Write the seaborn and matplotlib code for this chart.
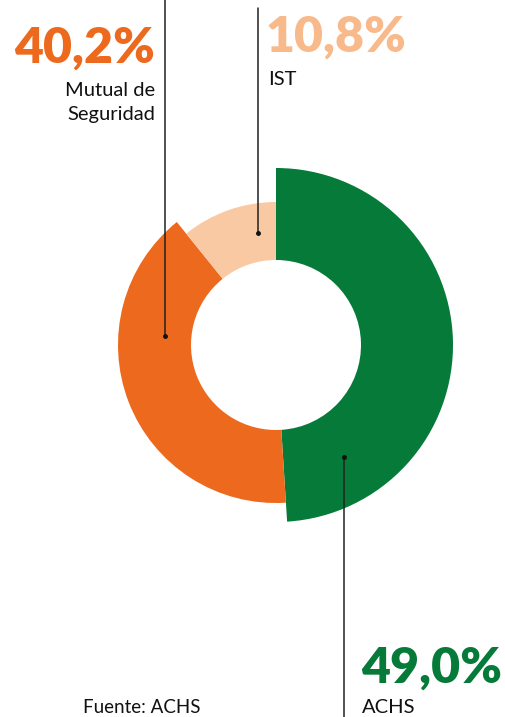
import matplotlib
matplotlib.use("Agg")
import matplotlib.pyplot as plt
from matplotlib.patches import Wedge
import seaborn as sns

# Data
labels = ["ACHS", "Mutual de\nSeguridad", "IST"]
shares = [49.0, 40.2, 10.8]
share_text = ["49,0%", "40,2%", "10,8%"]
source = "Fuente: ACHS"

# Style
colors = ["#067A38", "#EC691D", "#F9C9A4"]
pct_colors = ["#067A38", "#EC691D", "#F8B98B"]
outer_r = [177, 158, 143]
inner_r = 85
W, H = 505, 717
center = (276, H - 345)

sns.set_theme(style="white")
plt.rcParams["font.family"] = ["Lato", "DejaVu Sans"]

fig = plt.figure(figsize=(W / 100, H / 100), dpi=100)
ax = fig.add_axes([0, 0, 1, 1])
ax.set_xlim(0, W)
ax.set_ylim(0, H)
ax.set_aspect("equal")
ax.axis("off")

# Wedges, clockwise from 12 o'clock
start = 90.0
for share, col, r in zip(shares, colors, outer_r):
    sweep = share / sum(shares) * 360
    ax.add_patch(Wedge(center, r, start - sweep, start, width=r - inner_r,
                       facecolor=col, edgecolor="none"))
    start -= sweep

# Leader lines with end dots
def leader(x, y0, y1):
    ax.plot([x, x], [H - y0, H - y1], color="#222222", lw=1.1)
    ax.plot(x, H - y1, "o", color="#111111", ms=2.5)

leader(165, 0, 336)
leader(258, 8, 233)
leader(344, 717, 457)

def label_lines(x, y, text, ha, size=14.5, step=24):
    # one text per line so each baseline sits where the reference has it
    for i, line in enumerate(text.split("\n")):
        ax.text(x, H - (y + i * step), line, ha=ha, va="baseline",
                fontsize=size, color="#111111")

# Percentages and labels
pct_size = 36
ax.text(155, H - 63, share_text[1], ha="right", va="baseline", fontsize=pct_size,
        fontweight="heavy", color=pct_colors[1])
label_lines(155, 96, labels[1], "right")
ax.text(266, H - 52, share_text[2], ha="left", va="baseline", fontsize=pct_size,
        fontweight="heavy", color=pct_colors[2])
label_lines(268, 85, labels[2], "left")
ax.text(361, H - 683, share_text[0], ha="left", va="baseline", fontsize=pct_size,
        fontweight="heavy", color=pct_colors[0])
label_lines(362, 713, labels[0], "left")
ax.text(83, H - 713, source, ha="left", va="baseline", fontsize=13.5,
        color="#111111")

fig.savefig("out.png", dpi=100)
